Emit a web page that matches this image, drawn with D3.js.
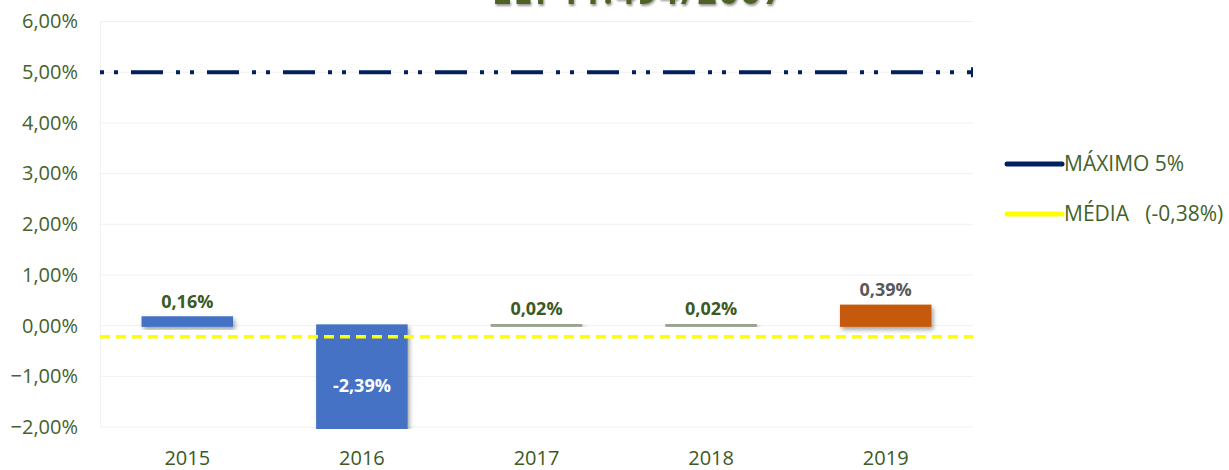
<!DOCTYPE html>
<html>
<head>
<meta charset="utf-8">
<script src="https://cdn.jsdelivr.net/npm/d3@7"></script>
<style>
  body { margin: 0; background: #fff; }
  text { font-family: "Open Sans", sans-serif; }
</style>
</head>
<body>
<svg id="chart"></svg>
<script>
var W = 1229, H = 470;

// data
var years = ["2015", "2016", "2017", "2018", "2019"];
var values = [0.16, -2.39, 0.02, 0.02, 0.39];
var labels = ["0,16%", "-2,39%", "0,02%", "0,02%", "0,39%"];
var barColors = ["#4472c4", "#4472c4", "#97a590", "#97a590", "#c55a11"];
var labelColors = ["#3b5a24", "#ffffff", "#3b5a24", "#3b5a24", "#595959"];
var yTicks = [6, 5, 4, 3, 2, 1, 0, -1, -2];
var maxLine = 5;
var mediaLine = -0.22; // where the yellow line sits in the picture
var legendNames = ["MÁXIMO 5%", "MÉDIA   (-0,38%)"];
var titleText = "LEI 11.494/2007";

var svg = d3.select("#chart").attr("width", W).attr("height", H);

var defs = svg.append("defs");
var sh = defs.append("filter").attr("id", "shadow")
  .attr("x", "-20%").attr("y", "-50%").attr("width", "140%").attr("height", "200%");
sh.append("feDropShadow").attr("dx", 2).attr("dy", 3).attr("stdDeviation", 2)
  .attr("flood-color", "#000").attr("flood-opacity", 0.35);
var tsh = defs.append("filter").attr("id", "tshadow");
tsh.append("feDropShadow").attr("dx", 1).attr("dy", 2).attr("stdDeviation", 1)
  .attr("flood-color", "#000").attr("flood-opacity", 0.4);
defs.append("clipPath").attr("id", "plotclip").append("rect")
  .attr("x", 100).attr("y", 15).attr("width", 880).attr("height", 414);

var x = d3.scaleBand().domain(years).range([100, 973]).paddingInner(0.49).paddingOuter(0.245);
var y = d3.scaleLinear().domain([-2, 6]).range([427, 21.5]);

// title, mostly cut off at the top as in the original
svg.append("text").attr("x", 637).attr("y", 4)
  .attr("text-anchor", "middle")
  .attr("textLength", 290)
  .style("font-size", "34px").style("font-weight", "bold")
  .style("fill", "#4f6228").attr("filter", "url(#tshadow)")
  .text(titleText);

// gridlines
svg.append("g").selectAll("line").data(yTicks).enter().append("line")
  .attr("x1", 100).attr("x2", 973)
  .attr("y1", function(d) { return y(d); }).attr("y2", function(d) { return y(d); })
  .style("stroke", "#f0f0f0").style("stroke-width", 1);
svg.append("line").attr("x1", 100.5).attr("x2", 100.5).attr("y1", y(6)).attr("y2", y(-2))
  .style("stroke", "#f2f2f2");

// y axis
var yAxis = svg.append("g").attr("transform", "translate(78,0)")
  .call(d3.axisLeft(y).tickValues(yTicks).tickSize(0).tickPadding(0)
    .tickFormat(function(d) { return d3.format(".2f")(d).replace(".", ",") + "%"; }));
yAxis.select(".domain").remove();
yAxis.selectAll("text").style("font-size", "20px").style("fill", "#44622c")
  .style("font-family", "Open Sans");

// x axis
var xAxis = svg.append("g").attr("transform", "translate(0,451)")
  .call(d3.axisBottom(x).tickSize(0).tickPadding(0));
xAxis.select(".domain").remove();
xAxis.selectAll("text").style("font-size", "20px").style("fill", "#3b5a24")
  .style("font-family", "Open Sans");

// bars
var bars = svg.append("g").attr("clip-path", "url(#plotclip)");
bars.selectAll("rect").data(values).enter().append("rect")
  .attr("x", function(d, i) { return x(years[i]); })
  .attr("width", x.bandwidth())
  .attr("y", function(d) { return y(Math.max(d, 0)); })
  .attr("height", function(d) { return Math.abs(y(d) - y(0)); })
  .style("fill", function(d, i) { return barColors[i]; })
  .style("stroke", function(d, i) { return barColors[i]; })
  .style("stroke-width", 2.5)
  .attr("filter", "url(#shadow)");

// data labels
svg.append("g").selectAll("text").data(values).enter().append("text")
  .attr("x", function(d, i) { return x(years[i]) + x.bandwidth() / 2; })
  .attr("y", function(d) { return d < 0 ? (y(0) + y(d)) / 2 + 6 : y(d) - 10; })
  .attr("text-anchor", "middle")
  .style("font-size", "18px").style("font-weight", "bold")
  .style("fill", function(d, i) { return labelColors[i]; })
  .text(function(d, i) { return labels[i]; });

// reference lines
svg.append("line").attr("x1", 100).attr("x2", 973)
  .attr("y1", y(mediaLine)).attr("y2", y(mediaLine))
  .style("stroke", "#ffff00").style("stroke-width", 3.5)
  .style("stroke-dasharray", "10,6");
svg.append("line").attr("x1", 100).attr("x2", 971)
  .attr("y1", y(maxLine)).attr("y2", y(maxLine))
  .style("stroke", "#002060").style("stroke-width", 4)
  .style("stroke-dasharray", "4,10,4,13,32,13");
svg.append("line").attr("x1", 972).attr("x2", 972)
  .attr("y1", y(maxLine) - 5).attr("y2", y(maxLine) + 5)
  .style("stroke", "#002060").style("stroke-width", 2);

// legend
var legColors = ["#002060", "#ffff00"];
var leg = svg.append("g").selectAll("g").data(legendNames).enter().append("g")
  .attr("transform", function(d, i) { return "translate(1005," + (164 + i * 50) + ")"; });
leg.append("line").attr("x1", 2).attr("x2", 57)
  .style("stroke", function(d, i) { return legColors[i]; })
  .style("stroke-width", 5).style("stroke-linecap", "round");
leg.append("text").attr("x", 59).attr("y", 7)
  .style("font-size", "21px").style("fill", "#44622c")
  .attr("xml:space", "preserve")
  .text(function(d) { return d; });
</script>
</body>
</html>
